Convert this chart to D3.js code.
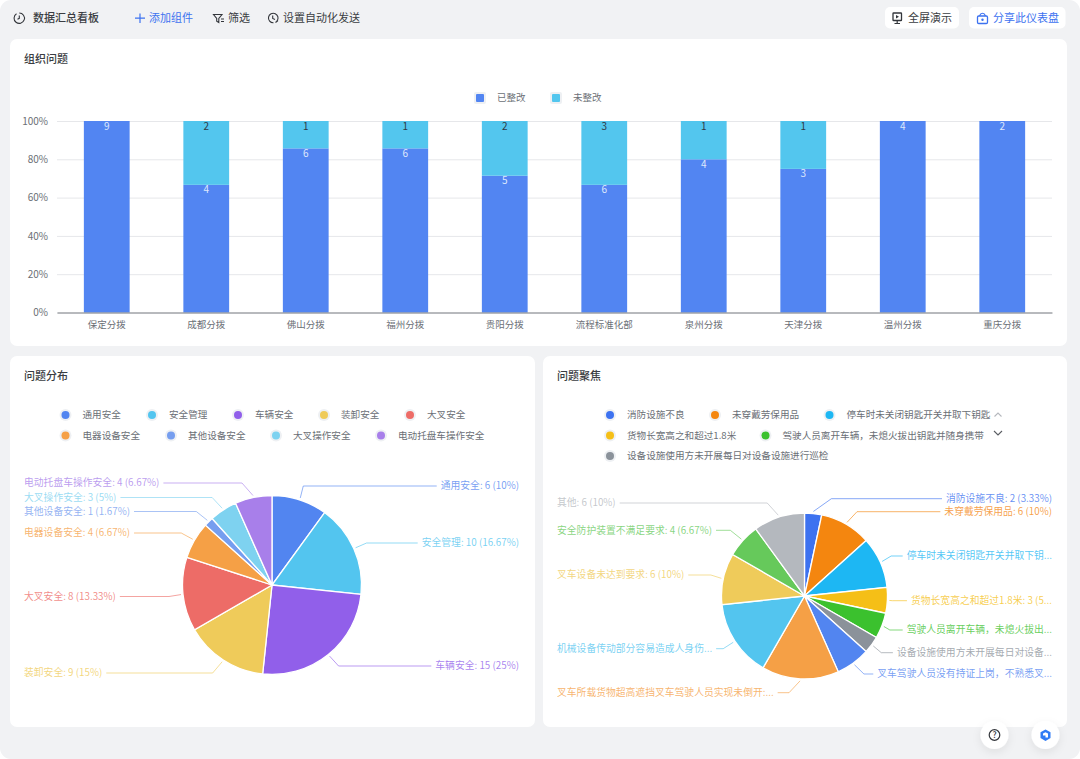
<!DOCTYPE html>
<html>
<head>
<meta charset="utf-8">
<title>数据汇总看板</title>
<script src="https://d3js.org/d3.v7.min.js"></script>
<style>
  html, body { margin: 0; padding: 0; background: #fff; }
  svg { display: block; }
  text { font-family: "Noto Sans CJK SC", "Noto Sans", sans-serif; }
</style>
</head>
<body>
<div id="chart"></div>
<script>
// bar chart data
const branches = ["保定分拨", "成都分拨", "佛山分拨", "福州分拨", "贵阳分拨", "流程标准化部", "泉州分拨", "天津分拨", "温州分拨", "重庆分拨"];
const fixedCounts = [9, 4, 6, 6, 5, 6, 4, 3, 4, 2];
const openCounts = [0, 2, 1, 1, 2, 3, 1, 1, 0, 0];
const barSeries = ["已整改", "未整改"];
const percentTicks = [0, 0.2, 0.4, 0.6, 0.8, 1];

// 问题分布
const distNames = ["通用安全", "安全管理", "车辆安全", "装卸安全", "大叉安全", "电器设备安全", "其他设备安全", "大叉操作安全", "电动托盘车操作安全"];
const distValues = [6, 10, 15, 9, 8, 4, 1, 3, 4];

// 问题聚焦
const focusLegend = ["消防设施不良", "未穿戴劳保用品", "停车时未关闭钥匙开关并取下钥匙", "货物长宽高之和超过1.8米", "驾驶人员离开车辆，未熄火拔出钥匙并随身携带", "设备设施使用方未开展每日对设备设施进行巡检"];
const focusLabels = ["消防设施不良: 2 (3.33%)", "未穿戴劳保用品: 6 (10%)", "停车时未关闭钥匙开关并取下钥...", "货物长宽高之和超过1.8米: 3 (5...", "驾驶人员离开车辆，未熄火拔出...", "设备设施使用方未开展每日对设备...", "叉车驾驶人员没有持证上岗，不熟悉叉...", "叉车所载货物超高遮挡叉车驾驶人员实现未倒开:...", "机械设备传动部分容易造成人身伤...", "叉车设备未达到要求: 6 (10%)", "安全防护装置不满足要求: 4 (6.67%)", "其他: 6 (10%)"];
const focusValues = [2, 6, 6, 3, 3, 2, 4, 9, 9, 6, 4, 6];

// colours
const barColors = ["#5285F2", "#53C6EE"];
const distColors = ["#5285F0", "#53C5EF", "#915FEA", "#EFCB5A", "#ED6C67", "#F5A046", "#769EEF", "#7ED2F0", "#A87FEA"];
const focusColors = ["#3D72F0", "#F4860F", "#1DB7F3", "#F5BF17", "#3BC12E", "#8B929A", "#5285F0", "#F5A046", "#53C5EF", "#EFCB5A", "#66C95B", "#B4B8BE"];

// label layout of the two pies
const distLabelY = [486, 543, 666, 673, 596.5, 533, 511.5, 497.5, 483];
const distElbow = [3, 11, 9, 9.5, 12, 11.5, 11, 10, 11];
const focusLabelY = [498.7, 511.7, 556, 600.7, 630, 652.7, 674, 692.7, 648.7, 575, 530.3, 503];
const focusElbow = [18, 10, 9, 3, 6, 8, 9.5, 11, 10, 10.5, 11, 11];

const w = 1080, h = 759;
const textDark = "#3a3d42", textGrey = "#6b6f76", blue = "#3D72F0";

const svg = d3.select("#chart").append("svg").attr("width", w).attr("height", h);

svg.append("rect").attr("width", w).attr("height", h).attr("rx", 11).attr("fill", "#F1F2F4");

const defs = svg.append("defs");
const shadow = defs.append("filter").attr("id", "shadow").attr("x", "-50%").attr("y", "-50%").attr("width", "200%").attr("height", "200%");
shadow.append("feDropShadow").attr("dx", 0).attr("dy", 3).attr("stdDeviation", 4).attr("flood-color", "#000").attr("flood-opacity", 0.08);

function addText(x, y, str, size, color, anchor) {
    return svg.append("text").attr("x", x).attr("y", y).attr("dy", "0.35em")
        .attr("font-size", size).attr("fill", color).attr("text-anchor", anchor || "start").text(str);
}

// panels
[[10, 39, 1057, 307], [10, 356, 525, 371], [543, 356, 524, 371]].forEach(function(p) {
    svg.append("rect").attr("x", p[0]).attr("y", p[1]).attr("width", p[2]).attr("height", p[3]).attr("rx", 7).attr("fill", "#fff");
});
addText(24, 59, "组织问题", 11, textDark).attr("font-weight", 500);
addText(24, 376, "问题分布", 11, textDark).attr("font-weight", 500);
addText(557, 376, "问题聚焦", 11, textDark).attr("font-weight", 500);

// header
addText(33, 18, "数据汇总看板", 11, textDark).attr("font-weight", 500);
addText(149, 18, "添加组件", 11, blue);
addText(228, 18, "筛选", 11, textDark);
addText(283, 18, "设置自动化发送", 11, textDark);

const iconLine = { fill: "none", stroke: "#33363b", "stroke-width": 1.1 };
function icon(tag, attrs, style) {
    const el = svg.append(tag);
    Object.entries(Object.assign({}, style || iconLine, attrs)).forEach(function(e) { el.attr(e[0], e[1]); });
    return el;
}
// clock
icon("path", { d: "M16.5 13.8 A5.2 5.2 0 1 0 19.3 13" });
icon("path", { d: "M19.3 15.5 V18.3 L17.5 19.2" });
// plus
const blueLine = { fill: "none", stroke: blue, "stroke-width": 1.2 };
icon("path", { d: "M140 13.5 V23 M135 18.2 H145" }, blueLine);
// filter
icon("path", { d: "M213.5 14.5 H222 L218.8 18.5 V22.5 L216.7 21.3 V18.5 Z" });
icon("path", { d: "M221 19 H224 M221 21.5 H224" });
// clock with arrow
icon("path", { d: "M277 21 A4.8 4.8 0 1 0 273.5 22.8" });
icon("path", { d: "M272.7 15.5 V18.5 L275 19.5 M275.5 22.5 L278 20.5" });

// top right buttons
svg.append("rect").attr("x", 885).attr("y", 7).attr("width", 74).attr("height", 21.5).attr("rx", 5).attr("fill", "#fff");
svg.append("rect").attr("x", 969).attr("y", 7).attr("width", 96.5).attr("height", 21.5).attr("rx", 5).attr("fill", "#fff");
addText(908, 18, "全屏演示", 11, textDark);
addText(993, 18, "分享此仪表盘", 11, blue);
icon("rect", { x: 893, y: 13, width: 8.5, height: 7.5, rx: 0.6, "stroke-width": 1.3 });
icon("path", { d: "M897.2 20.5 V23.2 M894.5 23.5 H900", "stroke-width": 1.2 });
icon("path", { d: "M896 15 L899 16.8 L896 18.6 Z", fill: "#33363b", stroke: "none" });
icon("rect", { x: 977.5, y: 16, width: 10, height: 7.5, rx: 1.2, "stroke-width": 1.3 }, blueLine);
icon("path", { d: "M979.8 16 V15.3 A2.8 2.8 0 0 1 985.2 15.3 V16", "stroke-width": 1.2 }, blueLine);
icon("circle", { cx: 982.5, cy: 19.7, r: 1.2, fill: blue, stroke: "none" });

// bottom right round buttons
[994.5, 1045.5].forEach(function(cx) {
    svg.append("circle").attr("cx", cx).attr("cy", 735).attr("r", 14).attr("fill", "#fff").attr("filter", "url(#shadow)");
});
icon("circle", { cx: 994.5, cy: 735, r: 5.3, "stroke-width": 1.2 });
addText(994.5, 735, "?", 8.5, "#33363b", "middle").attr("font-weight", 500);
icon("path", { d: "M1045.5 729.5 L1050.5 732.3 V738 L1045.5 741 L1040.5 738 V732.3 Z", fill: "#2F7BF5", stroke: "none" });
icon("path", { d: "M1043 733.5 L1045.5 732.3 L1048 733.5 V737.5 L1045.5 737.5 V735.5 L1043 735.5 Z", fill: "#fff", stroke: "none" });

// ---- stacked bars
const x = d3.scaleBand().domain(branches).range([57, 1052]).paddingInner(0.54).paddingOuter(0.27);
const y = d3.scaleLinear().domain([0, 1]).range([312.5, 121]);

const rows = branches.map(function(b, i) {
    return { branch: b, "已整改": fixedCounts[i], "未整改": openCounts[i] };
});
const stacked = d3.stack().keys(barSeries).offset(d3.stackOffsetExpand)(rows);

svg.append("g").attr("transform", "translate(57,0)")
    .call(d3.axisLeft(y).tickValues(percentTicks).tickSize(-995).tickPadding(9).tickFormat(d3.format(".0%")))
    .call(function(g) {
        g.select(".domain").remove();
        g.selectAll(".tick line").attr("stroke", "#E6E7EA");
        g.selectAll(".tick text").attr("font-size", 10).attr("fill", textGrey).attr("font-family", null);
    });

stacked.forEach(function(layer, k) {
    const g = svg.append("g");
    g.selectAll("rect").data(layer).enter().append("rect")
        .attr("x", function(d) { return x(d.data.branch); })
        .attr("y", function(d) { return y(d[1]); })
        .attr("width", x.bandwidth())
        .attr("height", function(d) { return y(d[0]) - y(d[1]); })
        .attr("fill", barColors[k]);
    g.selectAll("text").data(layer.filter(function(d) { return d[1] > d[0]; })).enter().append("text")
        .attr("x", function(d) { return x(d.data.branch) + x.bandwidth() / 2; })
        .attr("y", function(d) { return y(d[1]) + 5; })
        .attr("dy", "0.35em")
        .attr("text-anchor", "middle")
        .attr("font-size", 10)
        .attr("fill", k === 0 ? "#dfe8fc" : "#2f3a45")
        .text(function(d) { return d.data[barSeries[k]]; });
});

svg.append("g").attr("transform", "translate(0,312.5)")
    .call(d3.axisBottom(x).tickSize(0).tickPadding(9))
    .call(function(g) {
        g.select(".domain").attr("stroke", "#7d8085").attr("stroke-width", 1);
        g.selectAll(".tick text").attr("font-size", 9.5).attr("fill", textGrey).attr("font-family", null);
    });

// bar legend
[[480, 497], [556, 573]].forEach(function(p, i) {
    svg.append("rect").attr("x", p[0] - 6).attr("y", 92).attr("width", 12).attr("height", 12).attr("rx", 2).attr("fill", "#EEF0F3");
    svg.append("rect").attr("x", p[0] - 4).attr("y", 94).attr("width", 8).attr("height", 8).attr("rx", 1).attr("fill", barColors[i]);
    addText(p[1], 98, barSeries[i], 9.5, textGrey);
});

// ---- pies
function drawLegend(names, colors, spots) {
    names.forEach(function(n, i) {
        const s = spots[i];
        svg.append("circle").attr("cx", s[0]).attr("cy", s[1]).attr("r", 6).attr("fill", "#EEF0F3");
        svg.append("circle").attr("cx", s[0]).attr("cy", s[1]).attr("r", 4).attr("fill", colors[i]);
        addText(s[0] + 17, s[1], n, 9.6, textGrey);
    });
}

function drawPie(opts) {
    const arcs = d3.pie().sort(null).value(function(d) { return d; })(opts.values);
    const arc = d3.arc().innerRadius(0).outerRadius(opts.r);
    const g = svg.append("g").attr("transform", "translate(" + opts.cx + "," + opts.cy + ")");
    g.selectAll("path").data(arcs).enter().append("path")
        .attr("d", arc)
        .attr("fill", function(d, i) { return opts.colors[i]; })
        .attr("stroke", "#fff")
        .attr("stroke-width", 1.3);

    arcs.forEach(function(d, i) {
        const mid = (d.startAngle + d.endAngle) / 2;
        const right = Math.sin(mid) >= 0;
        const dir = right ? 1 : -1;
        const sx = opts.cx + Math.sin(mid) * (opts.r + 2);
        const sy = opts.cy - Math.cos(mid) * (opts.r + 2);
        const ly = opts.labelY[i];
        const t = addText(right ? opts.rightX : opts.leftX, ly, opts.labels[i], 9.8, opts.colors[i], right ? "end" : "start")
            .attr("fill-opacity", 0.78);
        const len = t.node().getComputedTextLength();
        const endX = right ? opts.rightX - len - 4 : opts.leftX + len + 4;
        const ex = sx + dir * opts.elbow[i];
        svg.append("path")
            .attr("d", d3.line()([[sx, sy], [ex, ly], [endX, ly]]))
            .attr("fill", "none")
            .attr("stroke", opts.colors[i])
            .attr("stroke-opacity", 0.62)
            .attr("stroke-width", 1);
    });
}

const distTotal = d3.sum(distValues);
drawLegend(distNames, distColors, [[65.5, 415], [152, 415], [238, 415], [324, 415], [410, 415], [65.5, 435.5], [171, 435.5], [276, 435.5], [381, 435.5]]);
drawPie({
    values: distValues,
    labels: distNames.map(function(n, i) { return n + ": " + distValues[i] + " (" + (+(distValues[i] / distTotal * 100).toFixed(2)) + "%)"; }),
    colors: distColors, cx: 272, cy: 585, r: 89.5, labelY: distLabelY, elbow: distElbow, leftX: 24, rightX: 519
});

drawLegend(focusLegend, focusColors, [[610, 415], [715, 415], [829.5, 415], [610, 435.5], [765.5, 435.5], [610, 456]]);
drawPie({
    values: focusValues, labels: focusLabels,
    colors: focusColors, cx: 804.5, cy: 596, r: 83, labelY: focusLabelY, elbow: focusElbow, leftX: 557, rightX: 1052
});

// legend pager arrows
icon("path", { d: "M994.5 416.5 L998 413 L1001.5 416.5", stroke: "#b5b8bd" });
icon("path", { d: "M994 431 L998 435 L1002 431", stroke: "#5a5d63" });
</script>
</body>
</html>
